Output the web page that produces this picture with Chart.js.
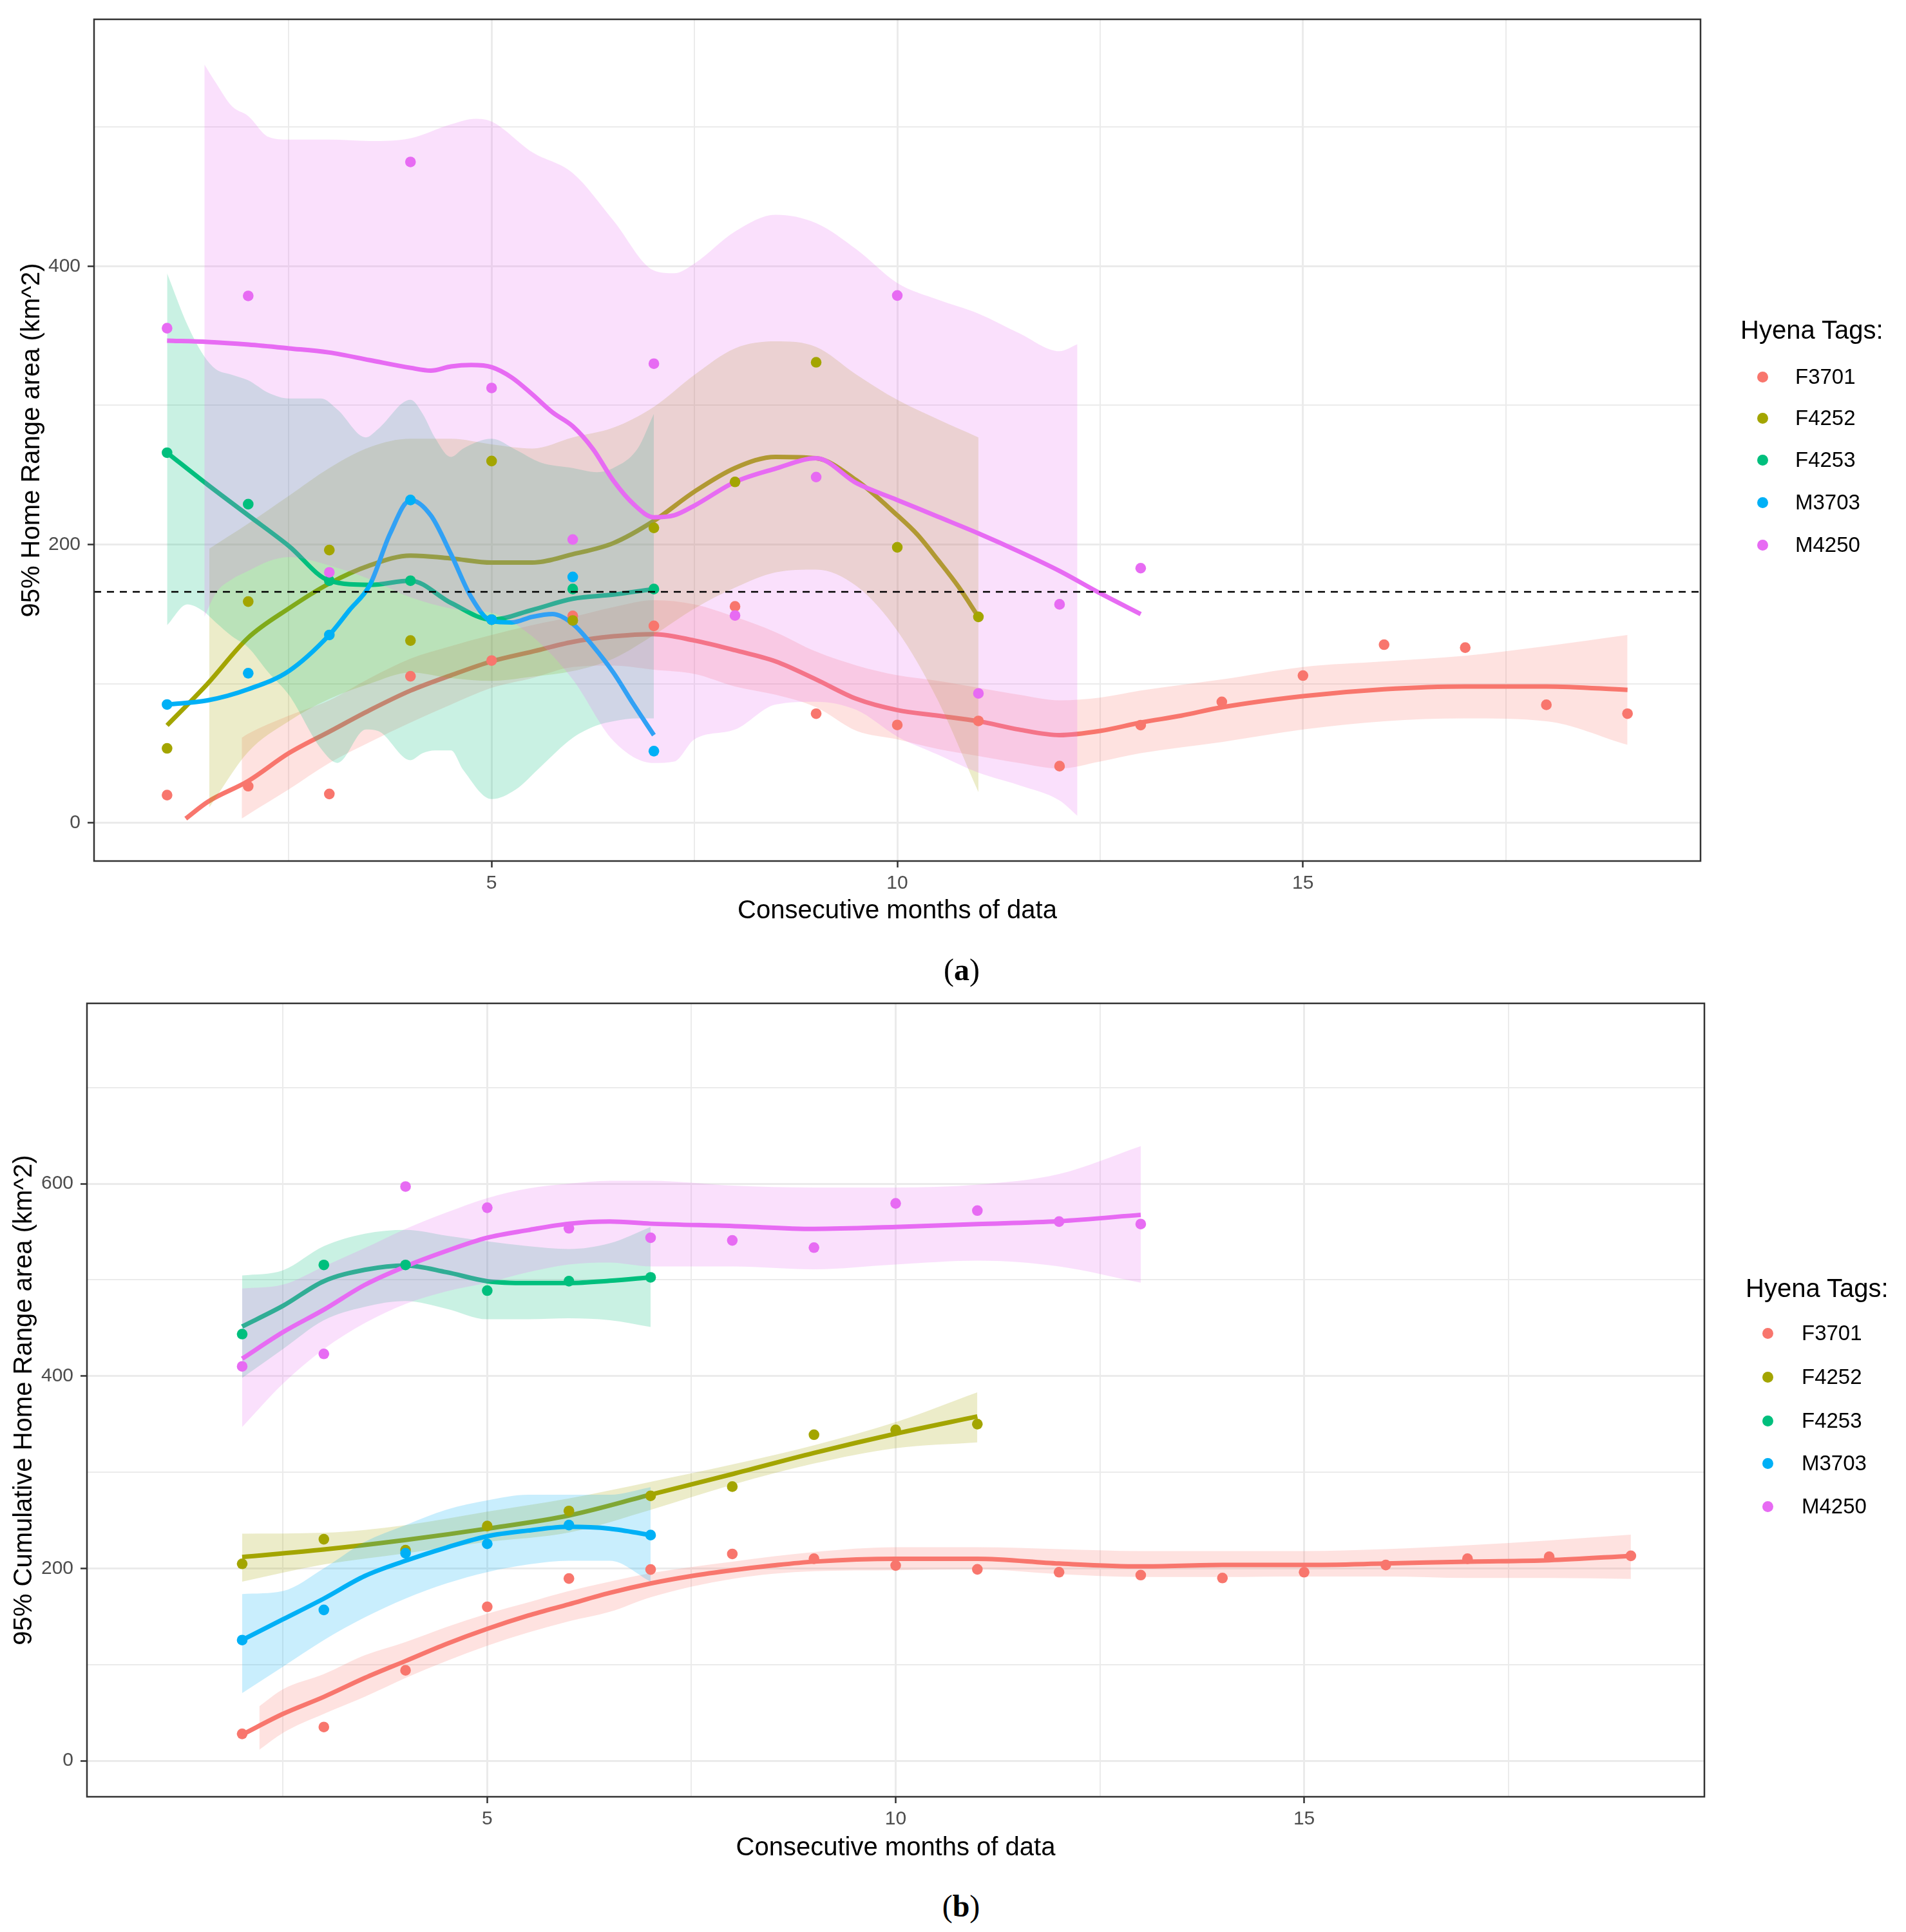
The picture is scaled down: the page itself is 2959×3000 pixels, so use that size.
<!DOCTYPE html>
<html>
<head>
<meta charset="utf-8">
<script src="https://cdn.jsdelivr.net/npm/chart.js@4/dist/chart.umd.min.js"></script>
<style>
html,body{margin:0;padding:0;background:#ffffff;}
body{width:2959px;height:3000px;position:relative;overflow:hidden;font-family:"Liberation Sans",Arial,sans-serif;}
.wrap{position:absolute;left:0;width:2959px;}
#wrapA{top:0;height:1460px;}
#wrapB{top:1500px;height:1415px;}
.lg-title{position:absolute;font-size:40px;line-height:48px;color:#000;white-space:nowrap;}
.lg-label{position:absolute;font-size:33px;line-height:40px;color:#000;white-space:nowrap;}
.lg-dot{position:absolute;width:17px;height:17px;border-radius:50%;}
.cap{position:absolute;font-family:"Liberation Serif","Times New Roman",serif;font-size:48px;line-height:48px;color:#000;transform:translate(-50%,-50%);white-space:nowrap;}
</style>
</head>
<body>
<div id="wrapA" class="wrap"><canvas id="chartA"></canvas></div>
<div id="wrapB" class="wrap"><canvas id="chartB"></canvas></div>
<div id="legends"></div>
<div class="cap" style="left:1493px;top:1506px;">(<b>a</b>)</div>
<div class="cap" style="left:1492px;top:2960px;">(<b>b</b>)</div>
<script>
// ---------------- categories / labels ----------------
const TAGS = ['F3701', 'F4252', 'F4253', 'M3703', 'M4250'];
const COLORS = ['#F8766D', '#A3A500', '#00BF7D', '#00B0F6', '#E76BF3'];
const LEGEND_TITLE = 'Hyena Tags:';
const X_TITLE = 'Consecutive months of data';
const Y_TITLE_A = '95% Home Range area (km^2)';
const Y_TITLE_B = '95% Cumulative Home Range area (km^2)';
const X_TICKS = [2.5, 5, 7.5, 10, 12.5, 15, 17.5];
const X_LABELED = [5, 10, 15];
const Y_TICKS_A = [0, 100, 200, 300, 400, 500];
const Y_LABELED_A = [0, 200, 400];
const Y_TICKS_B = [0, 100, 200, 300, 400, 500, 600, 700];
const Y_LABELED_B = [0, 200, 400, 600];
const THRESHOLD_A = 166;

// ---------------- panel (a): monthly 95% home range ----------------
// F3701
const A_F3701_px = [1,2,3,4,5,6,7,8,9,10,11,12,13,14,15,16,17,18,19];
const A_F3701_py = [19.9,26.3,20.7,105.3,116.6,148.7,141.5,155.5,78.4,70.3,73.2,40.7,70.2,86.9,105.8,128,125.9,84.8,78.4];
const A_F3701_lx = [1.23,1.5,2,2.5,3,3.5,4,4.5,5,5.5,6,6.5,7,7.5,8,8.5,9,9.5,10,10.5,11,11.5,12,12.5,13,13.5,14,15,16,17,18,19];
const A_F3701_ly = [3,15,30,50,65.5,81,95,106,116,123,130,134,135.6,131,124,116,103,89,81,77,73,67,63,66,72,77,83,91,96,98,98,95.5];
const A_F3701_rx = [1.92,2,2.5,3,3.5,4,4.5,5,5.5,6,6.5,7,7.5,8,8.5,9,9.5,10,10.5,11,11.5,12,12.5,13,14,15,16,17,18,19];
const A_F3701_ru = [61,64,77,88,104,118,127,135,142,148,155,160,157,148,137,123,113,106,102,97,92,88,90,95,103,112,116,120,127,135];
const A_F3701_rl = [3,6,24,43,58,72,85,97,104,112,113,110,107,98,92,83,66,60,53,48,43,39,44,50,58,67,73,75,73,56];
// F4252
const A_F4252_px = [1,2,3,4,5,6,7,8,9,10,11];
const A_F4252_py = [53.5,159,196,131,260,145.4,212,245,331,198,148];
const A_F4252_lx = [1,1.5,2,2.5,3,3.5,4,4.5,5,5.5,6,6.5,7,7.5,8,8.5,9,9.5,10,10.25,10.5,10.75,11];
const A_F4252_ly = [70,100,133,154,172,185,192,190,187,187,193,201,217,238,255,263,262,246,221,207,189,170,148];
const A_F4252_rx = [1.52,2,2.5,3,3.5,4,4.5,5,5.5,6,6.5,7,7.5,8,8.5,9,9.5,10,10.5,11];
const A_F4252_ru = [197,215,235,255,270,276,276,272,269,277,284,299,322,341,346,342,322,304,290,277];
const A_F4252_rl = [11,51,73,89,100,108,104,102,105,109,118,135,154,169,180,182,170,138,88,22];
// F4253
const A_F4253_px = [1,2,3,4,5,6,7];
const A_F4253_py = [266,229,174,174,146,168,168];
const A_F4253_lx = [1,1.5,2,2.5,3,3.5,4,4.5,5,5.5,6,6.5,7];
const A_F4253_ly = [266,243,221,199,174,171,174,158,146,153,161,164,168];
const A_F4253_rx = [1,1.25,1.45,1.6,1.8,2,2.25,2.5,2.9,3.1,3.45,3.6,4,4.15,4.3,4.5,4.65,5,5.3,5.6,6,6.3,6.5,6.8,7];
const A_F4253_ru = [395,358,336,326,322,318,309,305,305,297,277,283,304,294,277,263,269,276,268,259,255,252,255,269,294];
const A_F4253_rl = [142,157,152,144,134,126,108,92,53,43,67,66,45,50,52,52,38,17,24,40,61,70,73,75,75];
// M3703 (confidence band falls outside the plotted range)
const A_M3703_px = [1,2,3,4,5,6,7];
const A_M3703_py = [85,107.5,135,232,146,176.7,51.5];
const A_M3703_lx = [1,1.5,2,2.5,3,3.25,3.5,3.75,4,4.25,4.5,4.75,5,5.25,5.5,5.75,6,6.25,6.5,6.75,7];
const A_M3703_ly = [85,88,96,109,135,153,171,208,232,221,193,162,145,144,148,150,143,127,108,85,63];
const A_M3703_rx = [];
const A_M3703_ru = [];
const A_M3703_rl = [];
// M4250
const A_M4250_px = [1,2,3,4,5,6,7,8,9,10,11,12,13];
const A_M4250_py = [355.5,378.7,180,475,312.5,203.6,330,149,248.5,379,93,157,183];
const A_M4250_lx = [1,1.5,2,2.5,3,3.5,4,4.25,4.5,4.75,5,5.25,5.5,5.75,6,6.25,6.5,6.75,7,7.25,7.5,8,8.5,9,9.5,10,10.5,11,11.5,12,12.5,13];
const A_M4250_ly = [346.5,345.6,343.7,341,338,332.5,327,325,328,329,327.5,320,308,295,285,268.6,246,229,219.6,221,228,245,254.6,262,244,232,220,208,195,181,165,150];
const A_M4250_rx = [1.46,1.6,1.8,2,2.25,2.5,3,3.5,4,4.5,4.8,5,5.5,6,6.5,7,7.25,7.5,8,8.5,9,9.5,10,10.5,11,11.5,12,12.22];
const A_M4250_ru = [545,532,515,508,493,491,491,490,492,502,506,504,482,467,433,397,395,402,425,437,431,412,388,376,366,352,339,344];
const A_M4250_rl = [148,165,175,181,188,191,185,175,162,154,152,151,134,103,59,43,44,60,67,85,87,81,62,49,36,27,16,5];

// ---------------- panel (b): cumulative 95% home range ----------------
// F3701
const B_F3701_px = [2,3,4,5,6,7,8,9,10,11,12,13,14,15,16,17,18,19];
const B_F3701_py = [27.9,35,94,160,189.4,198.8,215,210,203,199,196,193,190,196,203.5,210,212,213];
const B_F3701_lx = [2,2.5,3,3.5,4,4.5,5,5.5,6,6.5,7,7.5,8,8.5,9,10,11,12,13,14,15,16,17,18,19];
const B_F3701_ly = [27.1,48.7,66.4,86,103.7,121.4,137.1,150.9,162.7,174.5,184.3,192,198,203,207,210,210,205,202,203.5,203.5,205,207,208.5,213];
const B_F3701_rx = [2.21,2.5,3,3.5,4,4.5,5,5.5,6,6.5,7,8,9,10,11,12,13,14,15,16,17,18,19];
const B_F3701_ru = [56.6,74.3,90,109.6,123.4,139,152.8,164.6,176.4,186.2,195,207,217,222,222,220,218,218,218,220,224,229,235];
const B_F3701_rl = [11.4,29,48.7,66.4,86,103.7,119.5,133.2,145,154.8,170,189,197,198,199,194,191,191,191.5,191.5,190,190,189];
// F4252
const B_F4252_px = [2,3,4,5,6,7,8,9,10,11];
const B_F4252_py = [204.7,230.3,218.9,244,259.7,275.4,285,339,344,350];
const B_F4252_lx = [2,3,4,5,6,7,8,9,10,11];
const B_F4252_ly = [211.8,219.6,229.5,241.3,255,276.6,298,320,340,358];
const B_F4252_rx = [2,3,4,5,6,7,8,9,10,11];
const B_F4252_ru = [236,237,245,259,272.7,290,308,328,352,383];
const B_F4252_rl = [186.2,204,215.7,227.5,237.3,260.9,287,309,325,331];
// F4253
const B_F4253_px = [2,3,4,5,6,7];
const B_F4253_py = [443.6,515.5,515.5,488.8,498.6,502.6];
const B_F4253_lx = [2,2.5,3,3.5,4,4.5,5,5.5,6,6.5,7];
const B_F4253_ly = [451.5,473,498.6,510.4,515,508,498.6,496.7,496.7,499,502.6];
const B_F4253_rx = [2,2.5,3,3.5,4,4.5,5,5.5,6,6.5,7];
const B_F4253_ru = [504.5,510,535,548,552,546,540,535,532,538,555];
const B_F4253_rl = [398,428,458,472,478,470,459,459,460,458,451];
// M3703
const B_M3703_px = [2,3,4,5,6,7];
const B_M3703_py = [125.4,156.8,215.7,225.5,245,234.6];
const B_M3703_lx = [2,2.5,3,3.5,4,4.5,5,5.5,6,6.5,7];
const B_M3703_ly = [125.4,147,168.6,192,207.9,221.6,233.4,239.3,243.2,241.3,234.6];
const B_M3703_rx = [2,2.5,3,3.5,4,4.5,5,5.5,6,6.5,7];
const B_M3703_ru = [173.3,176.4,200,227.5,245,261,270.7,276.6,276.6,276.6,284.5];
const B_M3703_rl = [70.3,97.8,125.4,149,168.6,184.3,196.1,204,207.9,207.9,186.2];
// M4250
const B_M4250_px = [2,3,4,5,6,7,8,9,10,11,12,13];
const B_M4250_py = [410,423,597,575,553.6,543.8,541,533.5,579.5,572,560.6,558];
const B_M4250_lx = [2,2.5,3,3.5,4,4.5,5,5.5,6,6.5,7,8,9,10,11,12,13];
const B_M4250_ly = [418,445.6,469,494.7,514,530,543.8,551.7,558.4,560.7,558.4,556,553,555,558,561,567.6];
const B_M4250_rx = [2,2.5,3,3.5,4,4.5,5,5.5,6,6.5,7,8,9,10,11,12,13];
const B_M4250_ru = [491,495,514,533,553,570,585,595,600,603,603,598,596,596,599,610,639];
const B_M4250_rl = [347,392,428,455,475,488,497,508,516,518,514,514,511,516,520,514,497];

// ---------------- build ----------------
const FONT = '"Liberation Sans", Arial, sans-serif';
Chart.defaults.font.family = FONT;

const xy = (xs, ys) => xs.map((x, i) => ({x: x, y: ys[i]}));
function hexA(hex, a) {
  const n = parseInt(hex.slice(1), 16);
  return 'rgba(' + ((n >> 16) & 255) + ',' + ((n >> 8) & 255) + ',' + (n & 255) + ',' + a + ')';
}

const seriesA = [
  {px:A_F3701_px, py:A_F3701_py, lx:A_F3701_lx, ly:A_F3701_ly, rx:A_F3701_rx, ru:A_F3701_ru, rl:A_F3701_rl},
  {px:A_F4252_px, py:A_F4252_py, lx:A_F4252_lx, ly:A_F4252_ly, rx:A_F4252_rx, ru:A_F4252_ru, rl:A_F4252_rl},
  {px:A_F4253_px, py:A_F4253_py, lx:A_F4253_lx, ly:A_F4253_ly, rx:A_F4253_rx, ru:A_F4253_ru, rl:A_F4253_rl},
  {px:A_M3703_px, py:A_M3703_py, lx:A_M3703_lx, ly:A_M3703_ly, rx:A_M3703_rx, ru:A_M3703_ru, rl:A_M3703_rl},
  {px:A_M4250_px, py:A_M4250_py, lx:A_M4250_lx, ly:A_M4250_ly, rx:A_M4250_rx, ru:A_M4250_ru, rl:A_M4250_rl}
];
const seriesB = [
  {px:B_F3701_px, py:B_F3701_py, lx:B_F3701_lx, ly:B_F3701_ly, rx:B_F3701_rx, ru:B_F3701_ru, rl:B_F3701_rl},
  {px:B_F4252_px, py:B_F4252_py, lx:B_F4252_lx, ly:B_F4252_ly, rx:B_F4252_rx, ru:B_F4252_ru, rl:B_F4252_rl},
  {px:B_F4253_px, py:B_F4253_py, lx:B_F4253_lx, ly:B_F4253_ly, rx:B_F4253_rx, ru:B_F4253_ru, rl:B_F4253_rl},
  {px:B_M3703_px, py:B_M3703_py, lx:B_M3703_lx, ly:B_M3703_ly, rx:B_M3703_rx, ru:B_M3703_ru, rl:B_M3703_rl},
  {px:B_M4250_px, py:B_M4250_py, lx:B_M4250_lx, ly:B_M4250_ly, rx:B_M4250_rx, ru:B_M4250_ru, rl:B_M4250_rl}
];

function makeDatasets(series) {
  const ds = [];
  let seq = 0;
  series.forEach((s, i) => {
    const col = COLORS[i];
    if (s.rx.length) {
      ds.push({label: TAGS[i] + ' band', data: xy(s.rx, s.ru), borderWidth: 0, borderColor: 'rgba(0,0,0,0)',
        pointRadius: 0, fill: '+1', backgroundColor: hexA(col, 0.21), cubicInterpolationMode: 'monotone', order: -seq});
      ds.push({label: TAGS[i] + ' band low', data: xy(s.rx, s.rl), borderWidth: 0, borderColor: 'rgba(0,0,0,0)',
        pointRadius: 0, fill: false, cubicInterpolationMode: 'monotone', order: -seq});
      seq++;
    }
    ds.push({label: TAGS[i] + ' smooth', data: xy(s.lx, s.ly), borderColor: col, borderWidth: 7,
      pointRadius: 0, fill: false, cubicInterpolationMode: 'monotone', borderCapStyle: 'butt', order: -seq});
    seq++;
  });
  series.forEach((s, i) => {
    ds.push({label: TAGS[i], data: xy(s.px, s.py), showLine: false, pointRadius: 8.3, pointHoverRadius: 8.3,
      pointBackgroundColor: COLORS[i], pointBorderWidth: 0, borderColor: COLORS[i], order: -seq});
    seq++;
  });
  return ds;
}

const panelPlugin = {
  id: 'panel',
  afterDatasetsDraw(chart, args, opts) {
    const ctx = chart.ctx, a = chart.chartArea;
    if (opts.hline !== null && opts.hline !== undefined) {
      const y = chart.scales.y.getPixelForValue(opts.hline);
      ctx.save();
      ctx.beginPath();
      ctx.setLineDash([11, 9]);
      ctx.lineWidth = 2.5;
      ctx.strokeStyle = '#000000';
      ctx.moveTo(a.left, y);
      ctx.lineTo(a.right, y);
      ctx.stroke();
      ctx.restore();
    }
    ctx.save();
    ctx.lineWidth = 2.5;
    ctx.strokeStyle = '#333333';
    ctx.strokeRect(a.left, a.top, a.right - a.left, a.bottom - a.top);
    ctx.restore();
  }
};

function makeChart(id, series, cfg) {
  return new Chart(document.getElementById(id), {
    type: 'line',
    data: {datasets: makeDatasets(series)},
    options: {
      responsive: true, maintainAspectRatio: false, animation: false, devicePixelRatio: 1, events: [],
      layout: {padding: {top: cfg.padTop, right: cfg.padRight, bottom: 0, left: 0}},
      plugins: {legend: {display: false}, tooltip: {enabled: false}, panel: {hline: cfg.hline}},
      scales: {
        x: {
          type: 'linear', min: 0.1, max: 19.9,
          afterBuildTicks: s => { s.ticks = X_TICKS.map(v => ({value: v})); },
          afterFit: s => { s.height = cfg.xAxisH; },
          ticks: {autoSkip: false, maxRotation: 0, padding: 7, color: '#4D4D4D', font: {size: 30, family: FONT},
            callback: v => X_LABELED.includes(v) ? String(v) : ''},
          grid: {color: '#EBEBEB', lineWidth: c => X_LABELED.includes(c.tick.value) ? 3 : 2,
            drawTicks: true, tickLength: 10, tickWidth: 2.5,
            tickColor: c => X_LABELED.includes(c.tick.value) ? '#333333' : 'rgba(0,0,0,0)'},
          border: {display: false},
          title: {display: true, text: X_TITLE, color: '#000000', font: {size: 40, family: FONT}, padding: {top: 0, bottom: 21}}
        },
        y: {
          type: 'linear', min: cfg.yMin, max: cfg.yMax,
          afterBuildTicks: s => { s.ticks = cfg.yTicks.map(v => ({value: v})); },
          afterFit: s => { s.width = cfg.yAxisW; },
          ticks: {autoSkip: false, padding: 11, color: '#4D4D4D', font: {size: 30, family: FONT},
            callback: v => cfg.yLabeled.includes(v) ? String(v) : ''},
          grid: {color: '#EBEBEB', lineWidth: c => cfg.yLabeled.includes(c.tick.value) ? 3 : 2,
            drawTicks: true, tickLength: 10, tickWidth: 2.5,
            tickColor: c => cfg.yLabeled.includes(c.tick.value) ? '#333333' : 'rgba(0,0,0,0)'},
          border: {display: false},
          title: {display: true, text: cfg.yTitle, color: '#000000', font: {size: 40, family: FONT}, padding: {top: cfg.yTitlePad, bottom: 0}}
        }
      }
    },
    plugins: [panelPlugin]
  });
}

makeChart('chartA', seriesA, {padTop: 30, padRight: 319, xAxisH: 123, yAxisW: 146, yMin: -27.5, yMax: 577.5,
  yTicks: Y_TICKS_A, yLabeled: Y_LABELED_A, yTitle: Y_TITLE_A, yTitlePad: 26, hline: THRESHOLD_A});
makeChart('chartB', seriesB, {padTop: 58, padRight: 313, xAxisH: 125, yAxisW: 135, yMin: -37.5, yMax: 787.5,
  yTicks: Y_TICKS_B, yLabeled: Y_LABELED_B, yTitle: Y_TITLE_B, yTitlePad: 14, hline: null});

// ---------------- legends (HTML text) ----------------
function buildLegend(titleLeft, titleY, dotX, labelX, itemYs) {
  const host = document.getElementById('legends');
  const t = document.createElement('div');
  t.className = 'lg-title';
  t.textContent = LEGEND_TITLE;
  t.style.left = titleLeft + 'px';
  t.style.top = (titleY - 24) + 'px';
  host.appendChild(t);
  TAGS.forEach((tag, i) => {
    const d = document.createElement('div');
    d.className = 'lg-dot';
    d.style.background = COLORS[i];
    d.style.left = (dotX - 8.5) + 'px';
    d.style.top = (itemYs[i] - 8.5) + 'px';
    host.appendChild(d);
    const l = document.createElement('div');
    l.className = 'lg-label';
    l.textContent = tag;
    l.style.left = labelX + 'px';
    l.style.top = (itemYs[i] - 20) + 'px';
    host.appendChild(l);
  });
}
buildLegend(2702, 512, 2736, 2787, [585, 649, 714, 780, 846]);
buildLegend(2710, 2000, 2744, 2797, [2070, 2138, 2206, 2272, 2339]);
</script>
</body>
</html>
